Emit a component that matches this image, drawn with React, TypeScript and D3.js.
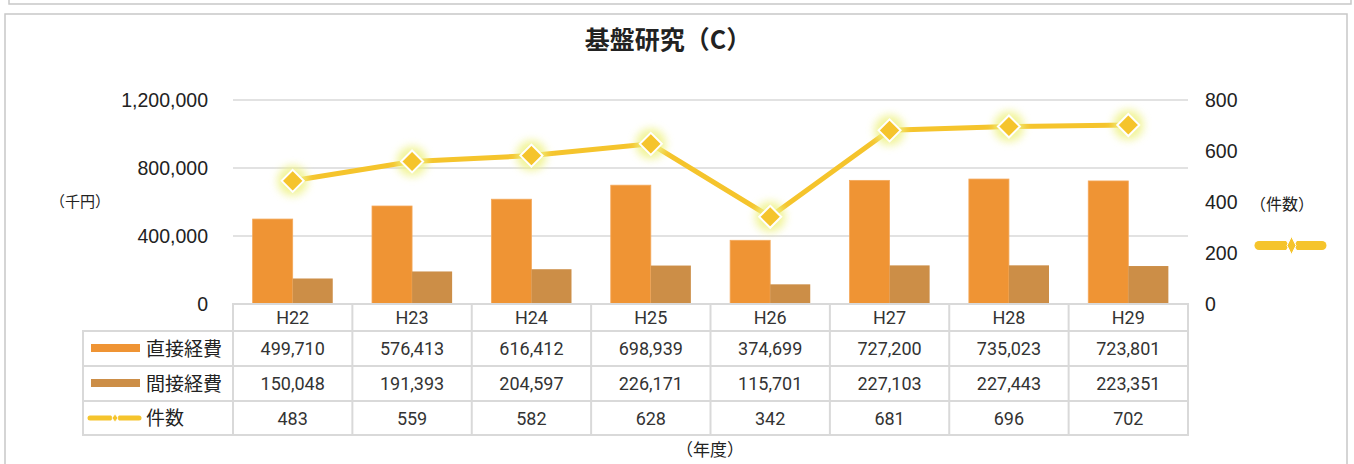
import React from "react";
import * as d3 from "d3";

const years = ["H22", "H23", "H24", "H25", "H26", "H27", "H28", "H29"];
const direct = [499710, 576413, 616412, 698939, 374699, 727200, 735023, 723801];
const indirect = [150048, 191393, 204597, 226171, 115701, 227103, 227443, 223351];
const counts = [483, 559, 582, 628, 342, 681, 696, 702];
const leftTicks = [0, 400000, 800000, 1200000];
const rightTicks = [0, 200, 400, 600, 800];

const ORANGE = "#EF9434";
const BROWN = "#CC8E47";
const YELLOW = "#F5C42C";
const GRID = "#d9d9d9";
const JP = "'Noto Sans CJK JP', sans-serif";
const AXIS = "'Liberation Sans', Arial, sans-serif";
const NUM = "Roboto, 'Noto Sans', sans-serif";

export default function App() {
  const plotLeft = 233;
  const plotRight = 1188;
  const plotTop = 100;
  const plotBottom = 304;

  const x = d3.scaleBand<string>().domain(years).range([plotLeft, plotRight]);
  const inner = d3.scaleBand<string>().domain(["d", "i"]).range([0, x.bandwidth()]).paddingOuter(0.49);
  const yL = d3.scaleLinear().domain([0, 1200000]).range([plotBottom, plotTop]);
  const yR = d3.scaleLinear().domain([0, 800]).range([plotBottom, plotTop]);
  const fmt = d3.format(",");
  const cxOf = (i: number) => (x(years[i]) as number) + x.bandwidth() / 2;

  const line = d3
    .line<number>()
    .x((_, i) => cxOf(i))
    .y((d) => yR(d));

  const rowTops = [304, 331, 366, 401, 435];
  const labelLeft = 83;
  const rows = [
    { name: "直接経費", vals: direct.map(fmt) },
    { name: "間接経費", vals: indirect.map(fmt) },
    { name: "件数", vals: counts.map(String) },
  ];

  const diamond = (cx: number, cy: number, rx: number, ry: number = rx) =>
    `M${cx},${cy - ry}L${cx + rx},${cy}L${cx},${cy + ry}L${cx - rx},${cy}Z`;

  return (
    <svg
      width={1354}
      height={464}
      style={{ position: "absolute", left: 0, top: 0, background: "#fff" }}
      fontFamily={JP}
    >
      <defs>
        <filter id="glow" x="-60%" y="-60%" width="220%" height="220%">
          <feGaussianBlur stdDeviation="4" />
        </filter>
      </defs>
      {/* panel borders */}
      <path d="M9,-2V4H1351V-2" fill="none" stroke="#c8c8c8" strokeWidth={1.5} />
      <path d="M5,470V14H1347V470" fill="none" stroke="#c8c8c8" strokeWidth={1.5} />

      <text x={668} y={49} textAnchor="middle" fontSize={25} fontWeight="bold" fill="#222">
        基盤研究（C）
      </text>

      {/* grid */}
      {leftTicks.filter((t) => t > 0).map((t) => (
        <line key={t} x1={plotLeft} x2={plotRight} y1={yL(t)} y2={yL(t)} stroke={GRID} strokeWidth={1.5} />
      ))}

      {/* left axis */}
      {leftTicks.map((t) => (
        <text key={t} x={208} y={yL(t) + 7} textAnchor="end" fontSize={19.5} fontFamily={AXIS} fill="#222">
          {fmt(t)}
        </text>
      ))}
      <text x={50} y={207} fontSize={15} fill="#222">（千円）</text>

      {/* right axis */}
      {rightTicks.map((t) => (
        <text key={t} x={1205} y={yR(t) + 7} fontSize={19.5} fontFamily={AXIS} fill="#222">
          {t}
        </text>
      ))}
      <text x={1250} y={210} fontSize={16} fill="#222">（件数）</text>
      <g>
        <path d="M1259,241H1286L1289,245.5L1286,250H1259A4.5,4.5 0 0 1 1259,241Z" fill={YELLOW} />
        <path d="M1297,241H1322A4.5,4.5 0 0 1 1322,250H1297L1294,245.5Z" fill={YELLOW} />
        <path d={diamond(1291.5, 245.5, 4.5, 9)} fill={YELLOW} stroke="#fff" strokeWidth={1} />
      </g>

      {/* bars */}
      {years.map((yr, i) => {
        const bx = x(yr) as number;
        return (
          <g key={yr}>
            <rect
              x={bx + (inner("d") as number)}
              y={yL(direct[i])}
              width={inner.bandwidth()}
              height={plotBottom - yL(direct[i])}
              fill={ORANGE}
              stroke="#F4A95C"
              strokeWidth={0.8}
            />
            <rect
              x={bx + (inner("i") as number)}
              y={yL(indirect[i])}
              width={inner.bandwidth()}
              height={plotBottom - yL(indirect[i])}
              fill={BROWN}
            />
          </g>
        );
      })}

      {/* line */}
      <path d={line(counts) || ""} fill="none" stroke={YELLOW} strokeWidth={5} />
      {counts.map((c, i) => {
        const cx = cxOf(i);
        const cy = yR(c);
        return (
          <g key={i}>
            <circle cx={cx} cy={cy} r={15} fill="#eef283" opacity={0.85} filter="url(#glow)" />
            <path d={diamond(cx, cy, 11)} fill={YELLOW} stroke="#fff" strokeWidth={2} />
          </g>
        );
      })}

      {/* data table */}
      <g stroke={GRID} strokeWidth={2} fill="none">
        <rect x={plotLeft} y={rowTops[0]} width={plotRight - plotLeft} height={rowTops[4] - rowTops[0]} />
        <rect x={labelLeft} y={rowTops[1]} width={plotRight - labelLeft} height={rowTops[4] - rowTops[1]} />
        {rowTops.slice(1, 4).map((t) => (
          <line key={t} x1={labelLeft} x2={plotRight} y1={t} y2={t} />
        ))}
        {years.map((yr) => (
          <line key={yr} x1={x(yr) as number} x2={x(yr) as number} y1={rowTops[0]} y2={rowTops[4]} />
        ))}
      </g>
      {years.map((yr, i) => (
        <text
          key={yr}
          x={cxOf(i)}
          y={(rowTops[0] + rowTops[1]) / 2 + 6.5}
          textAnchor="middle"
          fontSize={18}
          fontFamily={NUM}
          fill="#333"
        >
          {yr}
        </text>
      ))}
      {rows.map((r, ri) => {
        const cy = (rowTops[ri + 1] + rowTops[ri + 2]) / 2;
        return (
          <g key={r.name}>
            {ri === 0 && <rect x={91} y={cy - 4.5} width={49} height={8} fill={ORANGE} />}
            {ri === 1 && <rect x={91} y={cy - 4.5} width={49} height={8} fill={BROWN} />}
            {ri === 2 && (
              <g>
                <path d={`M90,${cy - 2.5}H111L113,${cy}L111,${cy + 2.5}H90A2.5,2.5 0 0 1 90,${cy - 2.5}Z`} fill={YELLOW} />
                <path d={`M119,${cy - 2.5}H139A2.5,2.5 0 0 1 139,${cy + 2.5}H119L117,${cy}Z`} fill={YELLOW} />
                <path d={diamond(115, cy, 3, 4)} fill={YELLOW} stroke="#fff" strokeWidth={0.8} />
              </g>
            )}
            <text x={146} y={cy + 7} fontSize={19} fill="#222">
              {r.name}
            </text>
            {r.vals.map((v, i) => (
              <text
                key={i}
                x={cxOf(i)}
                y={cy + 6.5}
                textAnchor="middle"
                fontSize={18}
                fontFamily={NUM}
                fill="#333"
              >
                {v}
              </text>
            ))}
          </g>
        );
      })}

      <text x={710} y={456} textAnchor="middle" fontSize={17} fill="#222">（年度）</text>
    </svg>
  );
}
